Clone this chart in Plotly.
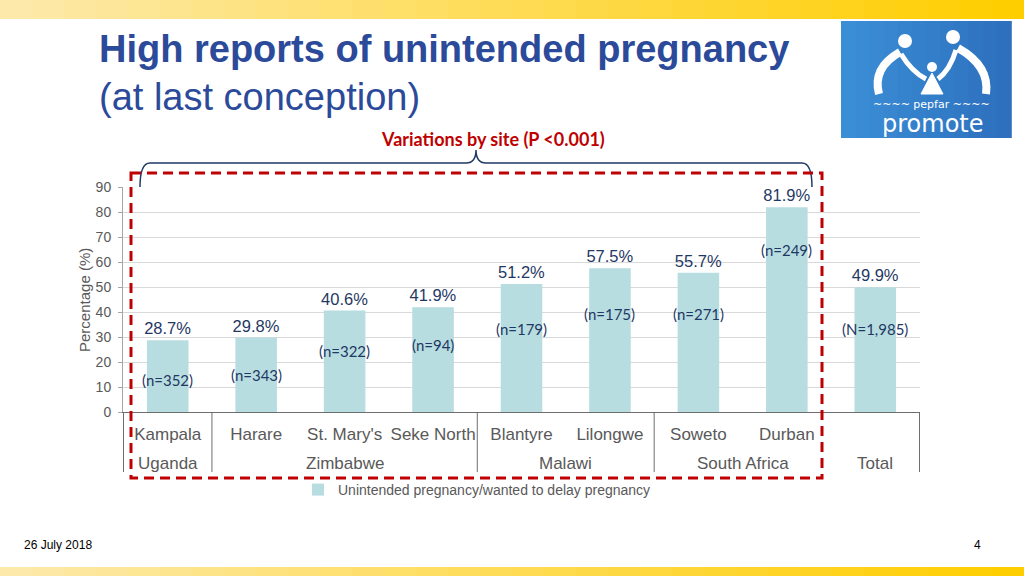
import plotly.graph_objects as go

# ---------------- data ----------------
sites = ["Kampala", "Harare", "St. Mary's", "Seke North", "Blantyre",
         "Lilongwe", "Soweto", "Durban", "Total"]
site_tick_labels = ["Kampala", "Harare", "St. Mary's", "Seke North", "Blantyre",
                    "Lilongwe", "Soweto", "Durban", ""]
pct_unintended = [28.7, 29.8, 40.6, 41.9, 51.2, 57.5, 55.7, 81.9, 49.9]
n_labels = ["(n=352)", "(n=343)", "(n=322)", "(n=94)", "(n=179)",
            "(n=175)", "(n=271)", "(n=249)", "(N=1,985)"]
n_label_y = [12.8, 14.8, 24.4, 26.8, 33.2, 39.2, 39.2, 64.8, 33.2]
countries = ["Uganda", "Zimbabwe", "Malawi", "South Africa", "Total"]
country_sizes = [1, 3, 2, 2, 1]
y_ticks = [0, 10, 20, 30, 40, 50, 60, 70, 80, 90]
series_name = "Unintended pregnancy/wanted to delay pregnancy"

# ---------------- geometry helpers (pixel -> paper) ----------------
W_PX, H_PX = 1024, 576
L, R, T, B = 123, 920, 187, 412


def px(x):
    return (x - L) / (R - L)


def py(y):
    return (B - y) / (B - T)


NAVY = "#1F3864"
GREY = "#595959"
BAR = "#B7DDE0"
RED = "#C00000"

fig = go.Figure()
fig.add_trace(go.Bar(
    x=sites, y=pct_unintended, name=series_name,
    marker=dict(color=BAR, line=dict(width=0)),
    text=[f"{v:.1f}%" for v in pct_unintended],
    textposition="outside", constraintext="none", cliponaxis=False,
    textfont=dict(family="Liberation Sans, Arial", size=16.5, color=NAVY),
    showlegend=True,
))

shapes = []
annotations = []

# --- top and bottom yellow gradient bands ---
def lerp(c1, c2, t):
    return "rgb(%d,%d,%d)" % tuple(round(a + (b - a) * t) for a, b in zip(c1, c2))

n_seg = 32
c_left, c_right = (253, 233, 170), (255, 206, 0)
for i in range(n_seg):
    t = i / (n_seg - 1)
    x0 = i * W_PX / n_seg
    x1 = (i + 1) * W_PX / n_seg + 1
    col = lerp(c_left, c_right, t)
    for (ya, yb) in [(0, 19), (567, 576)]:
        shapes.append(dict(type="rect", xref="paper", yref="paper",
                           x0=px(x0), x1=px(x1), y0=py(ya), y1=py(yb),
                           fillcolor=col, line=dict(width=0), layer="below"))

# --- logo ---
lx0, lx1, ly0, ly1 = 841, 1011, 21, 138
n_lseg = 12
for i in range(n_lseg):
    t = i / (n_lseg - 1)
    x0 = lx0 + i * (lx1 - lx0) / n_lseg
    x1 = lx0 + (i + 1) * (lx1 - lx0) / n_lseg + 0.8
    shapes.append(dict(type="rect", xref="paper", yref="paper",
                       x0=px(x0), x1=px(x1), y0=py(ly0), y1=py(ly1),
                       fillcolor=lerp((58, 142, 214), (46, 112, 190), t),
                       line=dict(width=0)))


def circle(cx, cy, r):
    shapes.append(dict(type="circle", xref="paper", yref="paper",
                       x0=px(cx - r), x1=px(cx + r), y0=py(cy - r), y1=py(cy + r),
                       fillcolor="white", line=dict(width=0)))


def path(points_str, width=6, fill=None):
    shapes.append(dict(type="path", xref="paper", yref="paper", path=points_str,
                       line=dict(color="white", width=width),
                       fillcolor=fill if fill else "rgba(0,0,0,0)"))


def P(x, y):
    return f"{px(x):.5f},{py(y):.5f}"


circle(905, 41, 7)
circle(953, 37, 7)
circle(932, 67, 5)
# left adult body + arm
path(f"M {P(900,52)} Q {P(872,68)} {P(879,94)}", width=8)
path(f"M {P(901,54)} Q {P(912,72)} {P(926,79)}", width=5)
# right adult body + arm
path(f"M {P(958,48)} Q {P(990,66)} {P(986,94)}", width=8)
path(f"M {P(956,50)} Q {P(950,70)} {P(938,79)}", width=5)
# child body
path(f"M {P(932,73)} L {P(921,94)} L {P(943,94)} Z", width=1, fill="white")

annotations.append(dict(xref="paper", yref="paper", x=px(932), y=py(104),
                        text="~~~~ pepfar ~~~~", showarrow=False,
                        font=dict(family="DejaVu Sans", size=11, color="white"),
                        xanchor="center", yanchor="middle"))
annotations.append(dict(xref="paper", yref="paper", x=px(933), y=py(124),
                        text="promote", showarrow=False,
                        font=dict(family="DejaVu Sans", size=24, color="white"),
                        xanchor="center", yanchor="middle"))

# --- titles ---
TITLE_BLUE = "#2B4A9A"
annotations.append(dict(xref="paper", yref="paper", x=px(97), y=py(49),
                        text="<b>High reports of unintended pregnancy</b>",
                        showarrow=False, xanchor="left", yanchor="middle",
                        font=dict(family="Liberation Sans, Arial", size=38, color=TITLE_BLUE)))
annotations.append(dict(xref="paper", yref="paper", x=px(97), y=py(97),
                        text="(at last conception)",
                        showarrow=False, xanchor="left", yanchor="middle",
                        font=dict(family="Liberation Sans, Arial", size=38, color=TITLE_BLUE)))
annotations.append(dict(xref="paper", yref="paper", x=px(493), y=py(139),
                        text="<b>Variations by site (P &lt;0.001)</b>",
                        showarrow=False, xanchor="center", yanchor="middle",
                        font=dict(family="Lato, Noto Sans", size=18, color=RED)))

# --- curly brace ---
brace = (f"M {P(140,187)} Q {P(140,163)} {P(150,163)} L {P(466,163)} "
         f"Q {P(476,163)} {P(476,150)} Q {P(476,163)} {P(486,163)} "
         f"L {P(802,163)} Q {P(812,163)} {P(812,187)}")
shapes.append(dict(type="path", xref="paper", yref="paper", path=brace,
                   line=dict(color=NAVY, width=1.5)))

# --- category group separators ---
bounds = [-0.5]
for s in country_sizes:
    bounds.append(bounds[-1] + s)
for b in bounds:
    if abs(b - 7.5) < 1e-9:
        continue
    shapes.append(dict(type="line", xref="x", yref="paper", x0=b, x1=b,
                       y0=0, y1=py(472), line=dict(color="#6E6E6E", width=1)))

# --- country labels ---
start = 0
for c, s in zip(countries, country_sizes):
    center = start + (s - 1) / 2
    annotations.append(dict(xref="x", yref="paper", x=center, y=py(463),
                            text=c, showarrow=False, xanchor="center", yanchor="middle",
                            font=dict(family="Liberation Sans, Arial", size=17, color=GREY)))
    start += s

# --- n labels ---
for i, (lab, yv) in enumerate(zip(n_labels, n_label_y)):
    annotations.append(dict(xref="x", yref="y", x=i, y=yv, text=lab,
                            showarrow=False, xanchor="center", yanchor="middle",
                            font=dict(family="Lato, Noto Sans", size=15, color=NAVY)))

# --- y axis title ---
annotations.append(dict(xref="paper", yref="paper", x=px(84), y=py(300),
                        text="Percentage (%)", textangle=-90, showarrow=False,
                        xanchor="center", yanchor="middle",
                        font=dict(family="Liberation Sans, Arial", size=15, color=GREY)))

# --- red dashed box ---
shapes.append(dict(type="rect", xref="paper", yref="paper",
                   x0=px(131), x1=px(822), y0=py(173), y1=py(478),
                   line=dict(color=RED, width=3, dash="10px,6px"),
                   fillcolor="rgba(0,0,0,0)"))

# --- footer ---
annotations.append(dict(xref="paper", yref="paper", x=px(22), y=py(545),
                        text="26 July 2018", showarrow=False, xanchor="left", yanchor="middle",
                        font=dict(family="Liberation Sans Narrow, Liberation Sans", size=12, color="black")))
annotations.append(dict(xref="paper", yref="paper", x=px(983), y=py(545),
                        text="4", showarrow=False, xanchor="right", yanchor="middle",
                        font=dict(family="Liberation Sans Narrow, Liberation Sans", size=12, color="black")))

fig.update_layout(
    width=W_PX, height=H_PX,
    margin=dict(l=L, r=W_PX - R, t=T, b=H_PX - B, pad=0),
    paper_bgcolor="white", plot_bgcolor="white",
    bargap=0.53,
    shapes=shapes, annotations=annotations,
    showlegend=True,
    legend=dict(orientation="h", x=px(298), y=py(474), xanchor="left", yanchor="top",
                font=dict(family="Liberation Sans, Arial", size=14, color=GREY),
                bgcolor="rgba(0,0,0,0)", itemwidth=30),
    xaxis=dict(type="category", categoryorder="array", categoryarray=sites,
               tickvals=sites, ticktext=site_tick_labels,
               showline=True, linecolor="#6E6E6E", linewidth=1,
               ticks="", showgrid=False,
               tickfont=dict(family="Liberation Sans, Arial", size=17, color=GREY),
               ticklabelstandoff=7),
    yaxis=dict(range=[0, 90], tickvals=y_ticks, showgrid=True, gridcolor="#D9D9D9",
               gridwidth=1, zeroline=False, showline=True, linecolor="#A6A6A6",
               ticks="outside", ticklen=4, tickcolor="#A6A6A6",
               ticklabelstandoff=4,
               tickfont=dict(family="Liberation Sans, Arial", size=14, color=GREY)),
)

fig.write_html("out.html", config={"displayModeBar": False})

# remove the default page margin so the 1024x576 figure fills the window exactly
with open("out.html", "r", encoding="utf-8") as f:
    html = f.read()
html = html.replace("<head>", "<head><style>html,body{margin:0;padding:0;overflow:hidden;}</style>", 1)
with open("out.html", "w", encoding="utf-8") as f:
    f.write(html)
